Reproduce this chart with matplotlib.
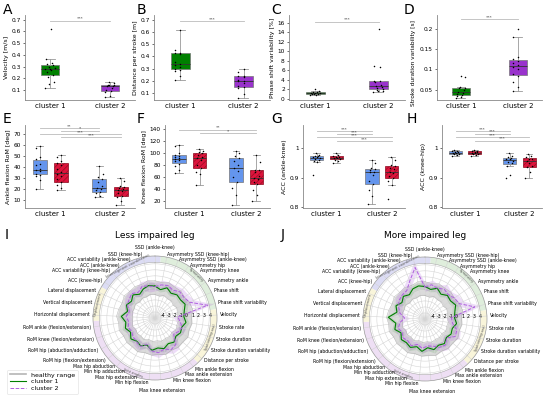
import numpy as np
import matplotlib.pyplot as plt
from matplotlib.lines import Line2D

plt.rcParams['hatch.linewidth'] = 0.4

W, H = 550, 399

# ---- box plot data ----
vel_c1 = [0.12, 0.15, 0.17, 0.21, 0.23, 0.25, 0.27, 0.28, 0.28, 0.29, 0.30, 0.31, 0.32, 0.33, 0.36, 0.62]
vel_c2 = [0.04, 0.05, 0.08, 0.09, 0.10, 0.12, 0.13, 0.13, 0.14, 0.14, 0.14, 0.16, 0.17]
dps_c1 = [0.21, 0.24, 0.28, 0.29, 0.30, 0.31, 0.33, 0.34, 0.35, 0.42, 0.43, 0.43, 0.45, 0.62]
dps_c2 = [0.06, 0.09, 0.14, 0.15, 0.16, 0.18, 0.20, 0.20, 0.21, 0.23, 0.24, 0.24, 0.27, 0.30]
psv_c1 = [0.7, 0.8, 0.9, 0.9, 1.0, 1.1, 1.1, 1.2, 1.3, 1.3, 1.5, 2.1]
psv_c2 = [1.3, 1.5, 1.7, 1.9, 2.0, 2.3, 2.5, 2.6, 2.9, 3.5, 3.7, 3.8, 6.7, 6.9, 14.8]
sdv_c1 = [0.030, 0.032, 0.036, 0.038, 0.040, 0.042, 0.044, 0.050, 0.054, 0.055, 0.058, 0.082, 0.085]
sdv_c2 = [0.048, 0.057, 0.070, 0.085, 0.090, 0.100, 0.105, 0.110, 0.115, 0.120, 0.125, 0.130, 0.180, 0.200]

# less impaired (blue) / more impaired (red), cluster 1 and cluster 2
ank_less_c1 = [20, 28, 32, 33, 34, 36, 37, 38, 42, 43, 47, 49, 57, 59]
ank_more_c1 = [19, 21, 24, 26, 29, 32, 34, 35, 38, 42, 44, 45, 49, 51]
ank_less_c2 = [13, 14, 16, 17, 19, 20, 21, 23, 26, 29, 31, 34, 41]
ank_more_c2 = [5, 9, 13, 14, 16, 18, 19, 20, 21, 22, 23, 27, 30]
kne_less_c1 = [67, 72, 78, 82, 86, 88, 90, 91, 93, 95, 96, 100, 112, 114]
kne_more_c1 = [46, 65, 68, 75, 80, 88, 92, 93, 96, 100, 101, 103, 106]
kne_less_c2 = [13, 30, 42, 52, 60, 70, 74, 80, 86, 92, 94, 100, 104]
kne_more_c2 = [20, 30, 38, 48, 52, 56, 58, 62, 68, 72, 72, 84, 96]
aak_less_c1 = [0.91, 0.955, 0.958, 0.96, 0.963, 0.967, 0.970, 0.971, 0.973, 0.975, 0.978, 0.985]
aak_more_c1 = [0.95, 0.957, 0.962, 0.964, 0.966, 0.968, 0.970, 0.972, 0.975, 0.978, 0.985]
aak_less_c2 = [0.81, 0.84, 0.86, 0.88, 0.89, 0.91, 0.92, 0.92, 0.925, 0.93, 0.935, 0.95, 0.96]
aak_more_c2 = [0.83, 0.875, 0.89, 0.90, 0.905, 0.915, 0.92, 0.93, 0.935, 0.94, 0.945, 0.96, 0.97]
akh_less_c1 = [0.975, 0.978, 0.98, 0.982, 0.984, 0.985, 0.986, 0.988, 0.99, 0.992, 0.995]
akh_more_c1 = [0.975, 0.978, 0.98, 0.981, 0.983, 0.985, 0.986, 0.988, 0.99, 0.99, 0.993]
akh_less_c2 = [0.90, 0.91, 0.94, 0.95, 0.952, 0.958, 0.962, 0.965, 0.968, 0.97, 0.975, 0.985]
akh_more_c2 = [0.90, 0.92, 0.935, 0.94, 0.95, 0.958, 0.962, 0.965, 0.97, 0.972, 0.98]

# ---- radar data (z-scores) ----
categories = ['SSD (ankle-knee)', 'Asymmetry SSD (knee-hip)', 'Asymmetry SSD (ankle-knee)',
              'Asymmetry hip', 'Asymmetry knee', 'Asymmetry ankle', 'Phase shift',
              'Phase shift variability', 'Velocity', 'Stroke rate', 'Stroke duration',
              'Stroke duration variability', 'Distance per stroke', 'Min ankle flexion',
              'Max ankle extension', 'Min knee flexion', 'Max knee extension', 'Min hip flexion',
              'Max hip extension', 'Min hip adduction', 'Max hip abduction',
              'RoM hip (flexion/extension)', 'RoM hip (abduction/adduction)',
              'RoM knee (flexion/extension)', 'RoM ankle (flexion/extension)',
              'Horizontal displacement', 'Vertical displacement', 'Lateral displacement',
              'ACC (knee-hip)', 'ACC variability (knee-hip)', 'ACC (ankle-knee)',
              'ACC variability (ankle-knee)', 'SSD (knee-hip)']
healthy_lo = [-1.1, -1.3, -1.0, -1.2, -1.1, -1.3, -1.0, -1.2, -1.3, -1.1, -1.2, -1.0, -1.3,
              -1.1, -1.2, -1.0, -1.2, -1.1, -1.3, -1.0, -1.2, -1.1, -1.3, -1.0, -1.2, -1.3,
              -1.1, -1.2, -1.0, -1.3, -1.1, -1.2, -1.0]
healthy_hi = [1.2, 1.0, 1.3, 1.1, 1.2, 1.0, 1.3, 1.4, 1.1, 1.2, 1.0, 1.3, 1.1, 1.2, 1.0, 1.3,
              1.1, 1.2, 1.0, 1.3, 1.1, 1.2, 1.0, 1.3, 1.1, 1.4, 1.2, 1.0, 1.3, 1.1, 1.2, 1.0, 1.3]
less_c1 = [0.3, -0.2, 0.4, -0.1, 0.3, 0.2, 0.5, 0.0, -0.2, 0.2, -0.3, -0.1, -0.4, 0.1, -0.2,
           0.3, 0.0, 0.4, -0.3, 0.2, -0.1, 0.3, -0.3, 0.2, -0.1, 0.6, -0.3, 0.2, -0.2, 0.3,
           -0.3, 0.2, 0.5]
less_c2 = [0.2, 0.6, 0.8, 0.5, 1.0, 0.9, 1.3, 4.0, -1.2, -0.8, -0.2, -0.5, -0.9, 0.6, 0.9,
           0.4, 0.8, 0.5, -0.4, 0.3, 0.0, -0.2, -0.5, -0.3, -0.6, -0.2, -0.6, 0.0, 0.3, 0.6,
           0.1, 0.7, 0.4]
more_c1 = [0.4, 0.0, 0.5, -0.1, 0.4, 0.2, 0.6, 0.1, -0.1, 0.3, -0.2, 0.0, -0.3, 0.2, -0.1,
           0.3, -0.2, 0.4, -0.2, 0.3, 0.0, 0.2, -0.4, 0.3, -0.1, 1.1, -0.2, 0.3, -0.3, 0.2,
           -0.2, 0.4, 0.6]
more_c2 = [0.3, 0.8, 0.5, 0.9, 0.6, 1.0, 1.2, 3.5, -0.6, -0.4, 0.6, 0.8, -0.2, 0.5, 0.3,
           -0.3, -0.5, -0.1, -0.6, 0.0, -0.4, -0.2, -0.6, -0.3, -0.8, -1.6, -0.7, -0.2, 0.3,
           0.5, 0.6, 1.8, 3.7]
spread_c1 = [0.5, 0.4, 0.6, 0.5, 0.4, 0.5, 0.6, 0.5, 0.4, 0.5, 0.6, 0.4, 0.5, 0.5, 0.4, 0.6,
             0.5, 0.4, 0.5, 0.6, 0.4, 0.5, 0.5, 0.6, 0.4, 0.5, 0.5, 0.4, 0.6, 0.5, 0.4, 0.5, 0.6]
spread_c2 = [0.7, 0.8, 0.6, 0.9, 0.7, 0.8, 0.9, 1.0, 0.8, 0.7, 0.6, 0.8, 0.7, 0.9, 0.7, 0.6,
             0.8, 0.7, 0.6, 0.8, 0.7, 0.6, 0.8, 0.7, 0.6, 0.8, 0.7, 0.6, 0.8, 0.7, 0.9, 0.8, 1.0]
sections = [('Intersegment coordination', 28, 33, '#dcdcf4'),
            ('Symmetry', 1, 7, '#dfeedc'),
            ('Spatiotemporal', 8, 12, '#f9f5da'),
            ('Joint angles', 13, 24, '#eedff4'),
            ('Displacement', 25, 27, '#f9f5da')]

GREEN, PURPLE = '#008000', '#9932cc'
BLUE, RED = '#6495ed', '#dc143c'
C2LINE = '#b060e0'
RADAR_PX = 124  # radar axes side in pixels


def rect(x0, x1, ytop, ybot):
    return [x0 / W, 1 - ybot / H, (x1 - x0) / W, (ybot - ytop) / H]


def box_panel(ax, groups, pos, colors, edges, hatches, width, ylabel, ylim, yticks, sigs):
    bp = ax.boxplot(groups, positions=pos, widths=width, patch_artist=True, showfliers=False,
                    medianprops=dict(color='#333333', lw=0.6),
                    whiskerprops=dict(color='#999999', lw=0.6),
                    capprops=dict(color='#999999', lw=0.6))
    for box, c, e, h in zip(bp['boxes'], colors, edges, hatches):
        box.set_facecolor(c)
        box.set_edgecolor(e)
        box.set_linewidth(0.5)
        box.set_hatch(h)
    for p, g in zip(pos, groups):
        n = len(g)
        offs = ((np.arange(n) * 7) % n / n - 0.5) * width * 0.6
        ax.scatter(p + offs, g, s=1.2, color='black', zorder=3, lw=0)
    for x0, x1, y, lab in sigs:
        ax.plot([x0, x1], [y, y], color='#bbbbbb', lw=0.6)
        ax.text((x0 + x1) / 2, y, lab, ha='center', va='bottom', fontsize=3.2, color='#333333')
    ax.set_xticks([0, 1])
    ax.set_xticklabels(['cluster 1', 'cluster 2'], fontsize=5)
    ax.set_ylim(*ylim)
    ax.set_yticks(yticks)
    ax.set_yticklabels([f'{v:g}' for v in yticks])
    ax.tick_params(axis='y', labelsize=4.2, length=1.5, width=0.4, pad=1.5)
    ax.tick_params(axis='x', length=0, pad=2)
    ax.set_ylabel(ylabel, fontsize=4.5, labelpad=2)
    for s in ['top', 'right']:
        ax.spines[s].set_visible(False)
    for s in ['left', 'bottom']:
        ax.spines[s].set_color('#888888')
        ax.spines[s].set_linewidth(0.6)


def radar(ax, c1, c2):
    n = len(categories)
    step = 2 * np.pi / n
    theta = np.arange(n) * step
    th = np.append(theta, theta[0])

    def close(v):
        v = np.asarray(v, dtype=float)
        return np.append(v, v[0])

    ax.set_theta_zero_location('N')
    ax.set_theta_direction(-1)
    ax.set_ylim(-5, 5.3)
    for name, a, b, col in sections:
        t0, t1 = (a - 0.5) * step, (b + 0.5) * step
        ax.bar((t0 + t1) / 2, 1.05, width=t1 - t0, bottom=4.25, color=col, edgecolor='none', zorder=0)
        tm = np.degrees((t0 + t1) / 2) % 360
        rot = -tm
        if 90 < tm < 270:
            rot += 180
        ax.text(np.radians(tm), 4.78, name, fontsize=2.6, color='#555555', rotation=rot,
                ha='center', va='center', rotation_mode='anchor')
    circ = np.linspace(0, 2 * np.pi, 200)
    ax.plot(circ, np.full_like(circ, 4.25), color='#aaaaaa', lw=0.4)

    lo, hi = close(healthy_lo), close(healthy_hi)
    ax.fill_between(th, lo, hi, color='#b0b0b0', alpha=0.45, lw=0)
    ax.plot(th, lo, color='#aaaaaa', lw=0.3)
    ax.plot(th, hi, color='#aaaaaa', lw=0.3)
    a1, s1 = close(c1), close(spread_c1)
    a2, s2 = close(c2), close(spread_c2)
    ax.fill_between(th, a1 - s1, a1 + s1, color=GREEN, alpha=0.12, lw=0)
    ax.fill_between(th, a2 - s2, a2 + s2, color=C2LINE, alpha=0.22, lw=0)
    ax.plot(th, a1, color=GREEN, lw=0.8)
    ax.plot(th, a2, color=C2LINE, lw=0.7, ls='--')

    ax.set_xticks(theta)
    ax.set_xticklabels([])

    # category labels around the circle, nudged apart near top and bottom
    half = n // 2
    rad = np.full(n, 65.0)
    rad[0], rad[half] = 70.0, 73.0
    xs, ys = rad * np.sin(theta), rad * np.cos(theta)
    gap = 5.5
    passes = [(range(1, 8), 0, -1), (range(n - 1, half + 9, -1), 0, -1),
              (range(half - 1, 8, -1), half, 1), (range(half + 1, half + 8), half, 1)]
    for seq, prev, sign in passes:
        for i in seq:
            if sign < 0:
                ys[i] = min(ys[i], ys[prev] - gap)
            else:
                ys[i] = max(ys[i], ys[prev] + gap)
            prev = i
    for i, lab in enumerate(categories):
        ha = 'center' if i in (0, half) else ('left' if i < half else 'right')
        ax.text(0.5 + xs[i] / RADAR_PX, 0.5 + ys[i] / RADAR_PX, lab, ha=ha, va='center',
                fontsize=3.3, transform=ax.transAxes, clip_on=False)

    ax.set_yticks(range(-4, 5))
    ax.set_yticklabels([str(v) for v in range(-4, 5)], fontsize=3.4)
    ax.set_rlabel_position(90)
    ax.grid(color='#d5d5d5', lw=0.4)
    ax.spines['polar'].set_color('#999999')
    ax.spines['polar'].set_linewidth(0.5)


fig = plt.figure(figsize=(5.5, 3.99), dpi=100)

# top row
top = [
    (rect(25, 135, 15, 100), [vel_c1, vel_c2], 'Velocity [m/s]', (0.014, 0.74), [0.1, 0.2, 0.3, 0.4, 0.5, 0.6, 0.7], [(0, 1, 0.69, '***')]),
    (rect(154, 270, 15, 100), [dps_c1, dps_c2], 'Distance per stroke [m]', (0.042, 0.74), [0.1, 0.2, 0.3, 0.4, 0.5, 0.6, 0.7], [(0, 1, 0.69, '***')]),
    (rect(289, 405, 15, 100), [psv_c1, psv_c2], 'Phase shift variability [%]', (-0.3, 17.7), [0, 2, 4, 6, 8, 10, 12, 14, 16], [(0, 1, 16.3, '***')]),
    (rect(437, 542, 15, 100), [sdv_c1, sdv_c2], 'Stroke duration variability [s]', (0.025, 0.234), [0.05, 0.1, 0.15, 0.2], [(0, 1, 0.223, '***')]),
]
for r, groups, lab, yl, yt, sigs in top:
    ax = fig.add_axes(r)
    box_panel(ax, groups, [0, 1], [GREEN, PURPLE], ['#777777', '#777777'], ['', ''], 0.3, lab, yl, yt, sigs)
    ax.set_xlim(-0.42, 1.42)
# long label in D sits a little lower, clear of the panel letter
ax.yaxis.label.set_fontsize(4.2)
ax.yaxis.set_label_coords(-0.2, 0.43)

# second row
quad_pos = [-0.18, 0.18, 0.82, 1.18]
quad_colors = [BLUE, RED, BLUE, RED]
quad_edges = ['#777777', '#8b0a1e', '#777777', '#8b0a1e']
quad_hatch = ['', '//////', '', '//////']
b1, r1, b2, r2 = quad_pos
second = [
    (rect(25, 135, 125, 208), [ank_less_c1, ank_more_c1, ank_less_c2, ank_more_c2], 'Ankle flexion RoM [deg]', (2.7, 78.2), [10, 20, 30, 40, 50, 60, 70],
     [(b1, b2, 75.5, '**'), (r1, b2, 73, '*'), (b1, r2, 70, '***'), (r1, r2, 67, '***')]),
    (rect(165, 270, 125, 208), [kne_less_c1, kne_more_c1, kne_less_c2, kne_more_c2], 'Knee flexion RoM [deg]', (7.8, 146.7), [20, 40, 60, 80, 100, 120, 140],
     [(b1, r2, 139, '**'), (r1, r2, 133, '*')]),
    (rect(303, 405, 125, 208), [aak_less_c1, aak_more_c1, aak_less_c2, aak_more_c2], 'ACC (ankle-knee)', (0.798, 1.079), [0.8, 0.9, 1.0],
     [(b1, b2, 1.059, '***'), (r1, b2, 1.048, '***'), (b1, r2, 1.037, '***'), (r1, r2, 1.024, '***')]),
    (rect(442, 542, 125, 208), [akh_less_c1, akh_more_c1, akh_less_c2, akh_more_c2], 'ACC (knee-hip)', (0.797, 1.079), [0.8, 0.9, 1.0],
     [(b1, b2, 1.059, '***'), (r1, b2, 1.049, '***'), (b1, r2, 1.038, '***'), (r1, r2, 1.026, '***')]),
]
for r, groups, lab, yl, yt, sigs in second:
    ax = fig.add_axes(r)
    box_panel(ax, groups, quad_pos, quad_colors, quad_edges, quad_hatch, 0.24, lab, yl, yt, sigs)
    ax.set_xlim(-0.43, 1.42)

# radar charts
axI = fig.add_axes(rect(93, 93 + RADAR_PX, 256, 256 + RADAR_PX), projection='polar')
radar(axI, less_c1, less_c2)
axJ = fig.add_axes(rect(363, 363 + RADAR_PX, 257, 257 + RADAR_PX), projection='polar')
radar(axJ, more_c1, more_c2)
fig.text(155 / W, 1 - 235 / H, 'Less impaired leg', ha='center', va='center', fontsize=6.5)
fig.text(425 / W, 1 - 235 / H, 'More impaired leg', ha='center', va='center', fontsize=6.5)

for letter, x, y in [('A', 3, 3), ('B', 137, 3), ('C', 271, 3), ('D', 404, 3),
                     ('E', 3, 112), ('F', 137, 112), ('G', 271, 112), ('H', 407, 112),
                     ('I', 5, 228), ('J', 281, 228)]:
    fig.text(x / W, 1 - y / H, letter, fontsize=10, va='top', ha='left')

handles = [Line2D([], [], color='#b5b5b5', lw=1.2, label='healthy range'),
           Line2D([], [], color=GREEN, lw=0.8, label='cluster 1'),
           Line2D([], [], color=C2LINE, lw=0.7, ls='--', label='cluster 2')]
leg = fig.legend(handles=handles, loc='lower left', bbox_to_anchor=(4 / W, 2 / H), fontsize=4.5,
                 handlelength=2.6, borderpad=0.4, labelspacing=0.25, frameon=True, fancybox=True)
leg.get_frame().set_edgecolor('#dddddd')
leg.get_frame().set_linewidth(0.5)

fig.savefig('out.png', dpi=100)
